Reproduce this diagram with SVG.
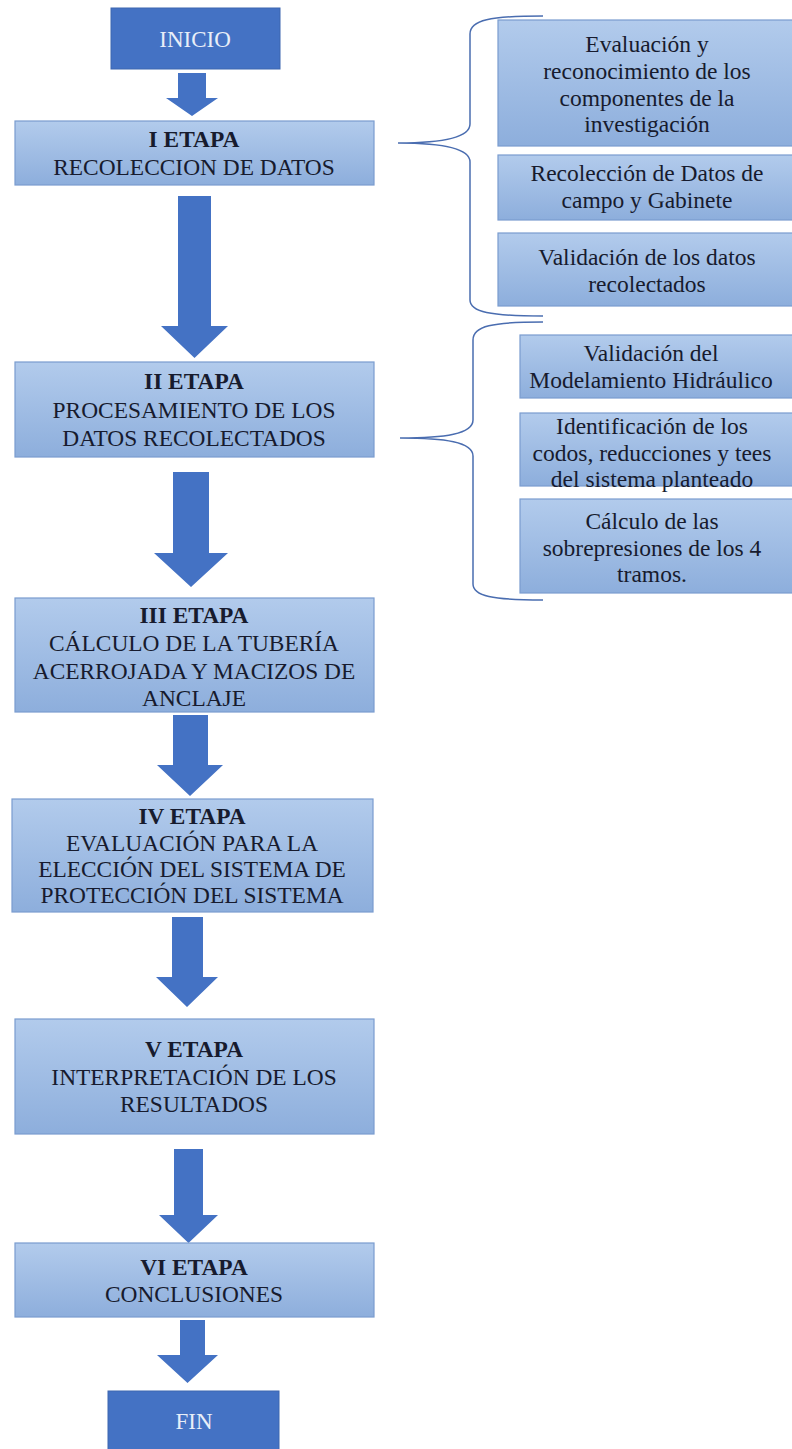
<svg xmlns="http://www.w3.org/2000/svg" width="792" height="1449" viewBox="0 0 792 1449">
<defs>
<linearGradient id="g" x1="0" y1="0" x2="0" y2="1">
<stop offset="0" stop-color="#b2cbec"/>
<stop offset="1" stop-color="#8daedc"/>
</linearGradient>
<style>
.lb{fill:url(#g);stroke:#7a9ccf;stroke-width:1.2}
.db{fill:#4472c4;stroke:#3d66b0;stroke-width:1}
.ar{fill:#4472c4}
text{font-family:'Liberation Serif','Times New Roman','DejaVu Serif',serif;text-anchor:middle}
.t{font-size:23.4px;fill:#171b2e}
.b{font-weight:bold}
.w{font-size:23px;fill:#e8eef8}
.s{font-size:23.5px;fill:#171b2e}
.s2{font-size:23.5px;fill:#171b2e}
.br{fill:none;stroke:#4a6db0;stroke-width:1.5}
</style>
</defs>
<rect width="792" height="1449" fill="#ffffff"/>
<g id="connectors">
<path class="ar" d="M178,73 H206 V98 H218 L192,116 L166,98 H178 Z"/>
<path class="ar" d="M178,196 H211 V326 H228 L194.5,358 L161,326 H178 Z"/>
<path class="ar" d="M173,472 H209 V553 H228 L191,587 L154,553 H173 Z"/>
<path class="ar" d="M173,715 H208 V765 H223 L190,796 L157,765 H173 Z"/>
<path class="ar" d="M172,917 H203 V977 H218 L187,1007 L156,977 H172 Z"/>
<path class="ar" d="M174,1149 H203 V1215 H218 L188.5,1243 L159,1215 H174 Z"/>
<path class="ar" d="M180,1320 H205 V1355 H218 L187.5,1383 L157,1355 H180 Z"/>
<path class="br" d="M543,16 C490,16 470,20 470,34 V124 C470,138 440,143 398,143 C440,143 470,148 470,162 V300 C470,312 490,316 543,316"/>
<path class="br" d="M543,322 C492,322 473,326 473,340 V420 C473,434 445,438 400,438 C445,438 473,442 473,456 V584 C473,596 492,600 543,600"/>
</g>
<g id="inicio">
<rect class="db" x="111" y="8" width="169" height="61"/>
<text class="w" x="195" y="47">INICIO</text>
</g>
<g id="etapa1">
<rect class="lb" x="15" y="121" width="359" height="64"/>
<text class="t b" x="194" y="147">I ETAPA</text>
<text class="t" x="194" y="175">RECOLECCION DE DATOS</text>
</g>
<g id="etapa2">
<rect class="lb" x="15" y="362" width="359" height="95"/>
<text class="t b" x="194" y="389">II ETAPA</text>
<text class="t" x="194" y="418">PROCESAMIENTO DE LOS</text>
<text class="t" x="194" y="446">DATOS RECOLECTADOS</text>
</g>
<g id="etapa3">
<rect class="lb" x="15" y="598" width="359" height="114"/>
<text class="t b" x="194" y="623">III ETAPA</text>
<text class="t" x="194" y="651">CÁLCULO DE LA TUBERÍA</text>
<text class="t" x="194" y="679">ACERROJADA Y MACIZOS DE</text>
<text class="t" x="194" y="706">ANCLAJE</text>
</g>
<g id="etapa4">
<rect class="lb" x="12" y="799" width="361" height="113"/>
<text class="t b" x="192" y="824">IV ETAPA</text>
<text class="t" x="192" y="851">EVALUACIÓN PARA LA</text>
<text class="t" x="192" y="877">ELECCIÓN DEL SISTEMA DE</text>
<text class="t" x="192" y="903">PROTECCIÓN DEL SISTEMA</text>
</g>
<g id="etapa5">
<rect class="lb" x="15" y="1019" width="359" height="115"/>
<text class="t b" x="194" y="1057">V ETAPA</text>
<text class="t" x="194" y="1085">INTERPRETACIÓN DE LOS</text>
<text class="t" x="194" y="1112">RESULTADOS</text>
</g>
<g id="etapa6">
<rect class="lb" x="15" y="1243" width="359" height="74"/>
<text class="t b" x="194" y="1275">VI ETAPA</text>
<text class="t" x="194" y="1302">CONCLUSIONES</text>
</g>
<g id="fin">
<rect class="db" x="108" y="1391" width="171" height="62"/>
<text class="w" x="194" y="1429">FIN</text>
</g>
<g id="sub1a">
<rect class="lb" x="498" y="20" width="300" height="126"/>
<text class="s" x="647" y="52">Evaluación y</text>
<text class="s" x="647" y="79">reconocimiento de los</text>
<text class="s" x="647" y="106">componentes de la</text>
<text class="s" x="647" y="132">investigación</text>
</g>
<g id="sub1b">
<rect class="lb" x="498" y="155" width="300" height="65"/>
<text class="s" x="647" y="181">Recolección de Datos de</text>
<text class="s" x="647" y="208">campo y Gabinete</text>
</g>
<g id="sub1c">
<rect class="lb" x="498" y="233" width="300" height="73"/>
<text class="s" x="647" y="265">Validación de los datos</text>
<text class="s" x="647" y="292">recolectados</text>
</g>
<g id="sub2a">
<rect class="lb" x="520" y="335" width="280" height="63"/>
<text class="s2" x="651" y="361">Validación del</text>
<text class="s2" x="651" y="388">Modelamiento Hidráulico</text>
</g>
<g id="sub2b">
<rect class="lb" x="520" y="413" width="280" height="73"/>
<text class="s2" x="652" y="434">Identificación de los</text>
<text class="s2" x="652" y="460.5">codos, reducciones y tees</text>
<text class="s2" x="652" y="487">del sistema planteado</text>
</g>
<g id="sub2c">
<rect class="lb" x="520" y="499" width="280" height="94"/>
<text class="s2" x="652" y="529">Cálculo de las</text>
<text class="s2" x="652" y="555.5">sobrepresiones de los 4</text>
<text class="s2" x="652" y="582">tramos.</text>
</g>
</svg>
